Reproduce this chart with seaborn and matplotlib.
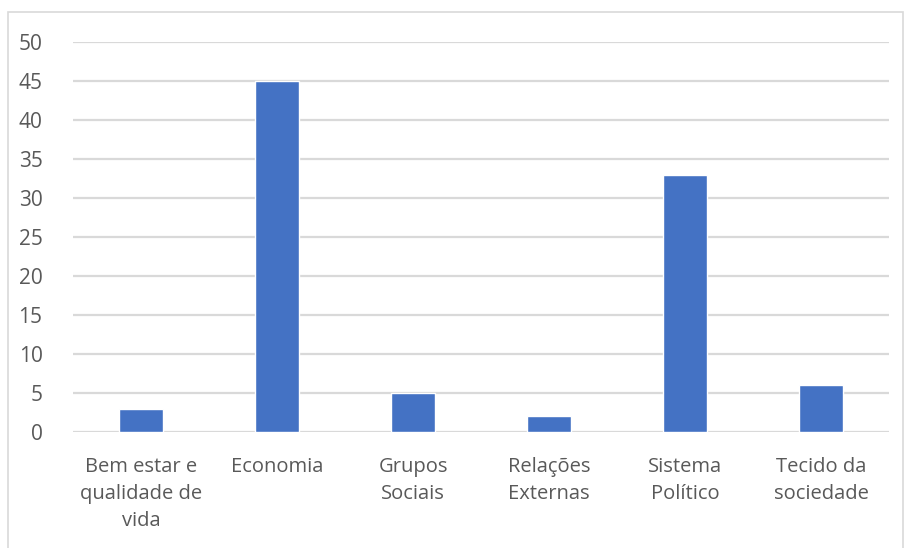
import matplotlib
matplotlib.use("Agg")
import matplotlib.pyplot as plt
import seaborn as sns
import pandas as pd
from matplotlib.patches import Rectangle

categories = ["Bem estar e\nqualidade de\nvida", "Economia", "Grupos\nSociais",
              "Relações\nExternas", "Sistema\nPolítico", "Tecido da\nsociedade"]
values = [3, 45, 5, 2, 33, 6]
yticks = [0, 5, 10, 15, 20, 25, 30, 35, 40, 45, 50]

sns.set_theme(style="white")
plt.rcParams["font.family"] = ["Open Sans", "DejaVu Sans"]

df = pd.DataFrame({"categoria": categories, "valor": values})

fig = plt.figure(figsize=(9.06, 5.48), dpi=100)
ax = fig.add_axes([73 / 906, 1 - 432 / 548, 816 / 906, 390 / 548])

sns.barplot(data=df, x="categoria", y="valor", color="#4472C4", saturation=1,
            width=0.32, ax=ax, zorder=3)

ax.set_ylim(0, 50)
ax.set_yticks(yticks)
ax.set_xlim(-0.5, len(categories) - 0.5)
ax.grid(axis="y", color="#D9D9D9", linewidth=1.6, zorder=0)
ax.set_axisbelow(True)
for s in ax.spines.values():
    s.set_visible(False)
ax.set_xlabel("")
ax.set_ylabel("")
ax.tick_params(axis="y", length=0, pad=22, labelsize=15, labelcolor="#595959")
ax.tick_params(axis="x", length=0, pad=18, labelsize=14.5, labelcolor="#595959")
for t in ax.get_xticklabels():
    t.set_linespacing(1.45)
    t.set_va("top")

fig.patches.append(Rectangle((8 / 906, -0.05), 895 / 906, 1.05 - 12 / 548,
                             transform=fig.transFigure, fill=False,
                             edgecolor="#D9D9D9", linewidth=1.2))

fig.savefig("out.png", dpi=100, facecolor="white")
